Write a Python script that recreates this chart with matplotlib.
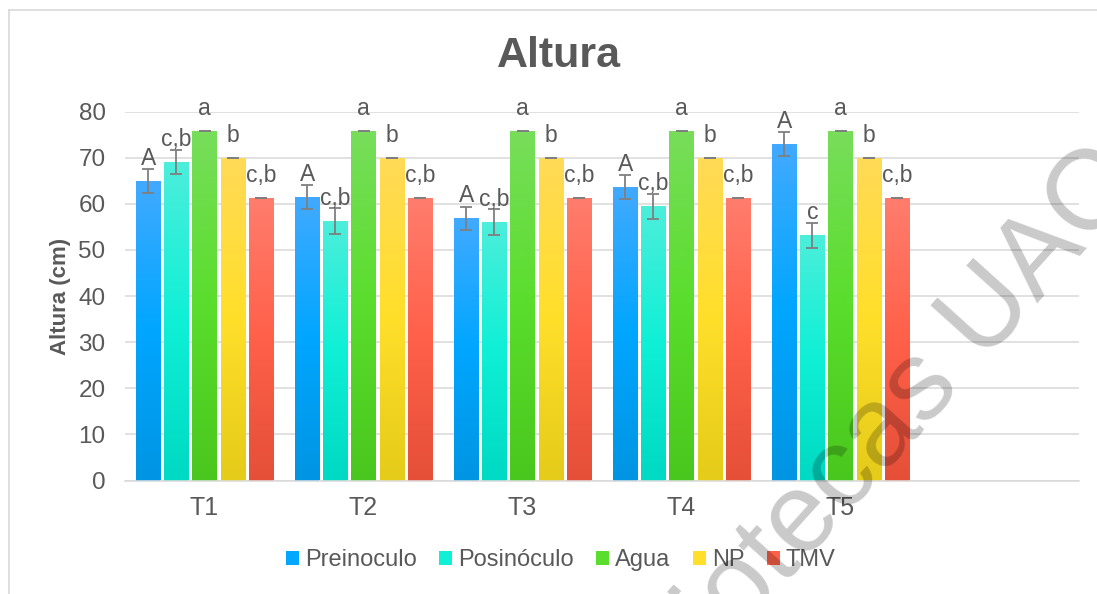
import numpy as np
import matplotlib.pyplot as plt
from matplotlib.colors import LinearSegmentedColormap
from matplotlib.lines import Line2D
from matplotlib.patches import Patch

plt.rcParams['font.family'] = ['Liberation Sans', 'DejaVu Sans']

groups = ['T1', 'T2', 'T3', 'T4', 'T5']
n_slots = 6  # el eje de Excel deja una categoria vacia al final

series_names = ['Preinoculo', 'Posinóculo', 'Agua', 'NP', 'TMV']

preinoculo = [65.0, 61.5, 56.9, 63.6, 73.0]
preinoculo_err = [2.6, 2.6, 2.5, 2.6, 2.6]
posinoculo = [69.1, 56.3, 56.0, 59.5, 53.2]
posinoculo_err = [2.7, 2.8, 2.8, 2.75, 2.75]
agua = [75.8, 75.8, 75.8, 75.8, 75.8]
agua_err = [0, 0, 0, 0, 0]
np_vals = [70.0, 70.0, 70.0, 70.0, 70.0]
np_err = [0, 0, 0, 0, 0]
tmv = [61.3, 61.3, 61.3, 61.3, 61.3]
tmv_err = [0, 0, 0, 0, 0]

letters_pre = ['A', 'A', 'A', 'A', 'A']
letters_pos = ['c,b', 'c,b', 'c,b', 'c,b', 'c']
letters_agua = ['a', 'a', 'a', 'a', 'a']
letters_np = ['b', 'b', 'b', 'b', 'b']
letters_tmv = ['c,b', 'c,b', 'c,b', 'c,b', 'c,b']

values = [preinoculo, posinoculo, agua, np_vals, tmv]
errors = [preinoculo_err, posinoculo_err, agua_err, np_err, tmv_err]
letters = [letters_pre, letters_pos, letters_agua, letters_np, letters_tmv]

# (abajo, medio, arriba) para el degradado de cada serie
gradients = [
    ['#0095E3', '#00A6FF', '#42AAFF'],
    ['#00D9C3', '#0FF0D6', '#4DEEDB'],
    ['#4AC71E', '#5ADD2C', '#78DD5B'],
    ['#E5CB1A', '#FFDF2A', '#FFDA57'],
    ['#E54F38', '#FF6049', '#FF7D6D'],
]

txt = '#595959'
grid_c = '#D9D9D9'

fig = plt.figure(figsize=(10.97, 5.94), dpi=100)
ax = fig.add_axes([125 / 1097, 1 - 480.5 / 594, (1079 - 125) / 1097, (480.5 - 111.7) / 594])

pitch = 0.177
width = 0.151
grad = np.linspace(0, 1, 256).reshape(-1, 1)
x = np.arange(len(groups))

for k in range(len(series_names)):
    cmap = LinearSegmentedColormap.from_list('g%d' % k, gradients[k])
    xs = x + (k - 2) * pitch
    bars = ax.bar(xs, values[k], width, color=gradients[k][1], zorder=2)
    for b, xi, h in zip(bars, xs, values[k]):
        im = ax.imshow(grad, cmap=cmap, extent=[xi - width / 2, xi + width / 2, 0, h],
                       aspect='auto', origin='lower', zorder=2.1)
        im.set_clip_path(b)
    ax.errorbar(xs, values[k], yerr=errors[k], fmt='none', ecolor='#7F7F7F',
                elinewidth=1.3, capsize=4, capthick=1.3, zorder=3)
    for xi, h, lab in zip(xs, values[k], letters[k]):
        ax.annotate(lab, (xi, h), xytext=(0, 11.5), textcoords='offset points',
                    ha='center', va='baseline', fontsize=16.5, color=txt, zorder=4)

ax.set_xlim(-0.5, n_slots - 0.5)
ax.set_ylim(0, 80)
ax.set_yticks(range(0, 81, 10))
ax.set_xticks(x)
ax.set_xticklabels(groups)
ax.yaxis.grid(True, color=grid_c, linewidth=1.1, zorder=0)
ax.set_axisbelow(True)
for s in ['top', 'right', 'left']:
    ax.spines[s].set_visible(False)
ax.spines['bottom'].set_color(grid_c)
ax.spines['bottom'].set_linewidth(1.1)
ax.tick_params(axis='y', length=0, pad=14, labelsize=17.5, labelcolor=txt)
ax.tick_params(axis='x', length=0, pad=11, labelsize=18, labelcolor=txt)

ax.set_ylabel('Altura (cm)', fontsize=16, fontweight='bold', color=txt)
ax.yaxis.set_label_coords(-54 / 954, 0.5)

fig.text(559 / 1097, 1 - 56 / 594, 'Altura', ha='center', va='center',
         fontsize=31, fontweight='bold', color=txt)

handles = [Patch(facecolor=gradients[k][1], edgecolor='none') for k in range(5)]
fig.legend(handles, series_names, loc='center', bbox_to_anchor=(561 / 1097, 1 - 560 / 594),
           ncol=5, frameon=False, fontsize=17, labelcolor=txt, handlelength=0.55,
           handleheight=0.55, handletextpad=0.25, columnspacing=0.95)

# borde del area del grafico (solo arriba e izquierda son visibles)
fig.add_artist(Line2D([8.5 / 1097, 1], [1 - 9.5 / 594, 1 - 9.5 / 594], color=grid_c, lw=1.2))
fig.add_artist(Line2D([8.5 / 1097, 8.5 / 1097], [0, 1 - 9.5 / 594], color=grid_c, lw=1.2))

# marca de agua
fig.text(851 / 1097, 1 - 467 / 594, 'Bibliotecas UAO', rotation=48, ha='center', va='center',
         rotation_mode='anchor', fontsize=81, color='black', alpha=0.21, zorder=10)

fig.savefig('out.png', dpi=100)
